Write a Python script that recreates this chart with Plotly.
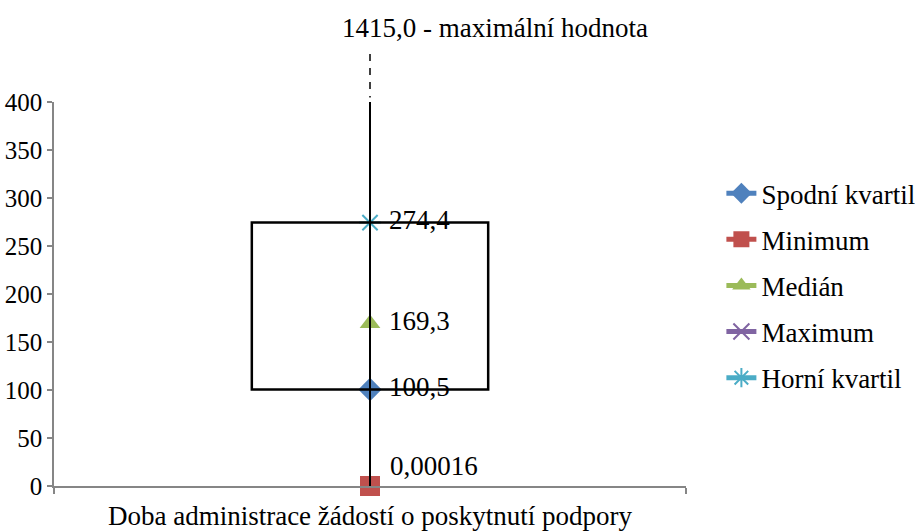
import plotly.graph_objects as go

category = ["Doba administrace žádostí o poskytnutí podpory"]
series_names = ["Spodní kvartil", "Minimum", "Medián", "Maximum", "Horní kvartil"]
series_values = [100.5, 0.00016, 169.3, 1415.0, 274.4]
series_labels = ["100,5", "0,00016", "169,3", "1415,0", "274,4"]
y_ticks = [0, 50, 100, 150, 200, 250, 300, 350, 400]
max_note = " - maximální hodnota"

colors = ["#4F81BD", "#C0504D", "#9BBB59", "#8064A2", "#4BACC6"]
symbols = ["diamond", "square", "triangle-up", "x-thin-open", "asterisk-open"]
sizes = [18, 20, 18, 16, 18]

FONT = "Liberation Serif"
FS = 27

vals = dict(zip(series_names, series_values))
q1, q3 = vals["Spodní kvartil"], vals["Horní kvartil"]
vmin, vmax = vals["Minimum"], vals["Maximum"]

fig = go.Figure()
for name, v, lab, c, s, sz in zip(series_names, series_values, series_labels,
                                   colors, symbols, sizes):
    show_text = name in ("Spodní kvartil", "Medián", "Horní kvartil")
    fig.add_trace(go.Scatter(
        x=category, y=[v], name=name, legendgroup=name,
        mode="lines+markers+text" if show_text else "lines+markers",
        text=[" " + lab] if show_text else None,
        textposition="middle right",
        textfont=dict(family=FONT, size=FS, color="black"),
        line=dict(color=c, width=5),
        marker=dict(symbol=s, size=sz, color=c,
                    line=dict(color=c, width=2 if "open" in s else 0)),
        cliponaxis=(name != "Minimum"),
    ))

# label of the minimum
fig.add_annotation(x=category[0], y=vmin, xref="x", yref="y",
                   text=series_labels[series_names.index("Minimum")],
                   showarrow=False, xanchor="left", yanchor="middle",
                   xshift=18, yshift=20,
                   font=dict(family=FONT, size=FS, color="black"))

# whisker from minimum to maximum (clipped by the axis range)
fig.add_trace(go.Scatter(
    x=category * 2, y=[vmin, vmax], mode="lines",
    line=dict(color="black", width=2), showlegend=False, hoverinfo="skip",
))

half = 0.187
fig.add_shape(type="rect", xref="x", yref="y", x0=-half, x1=half, y0=q1, y1=q3,
              line=dict(color="black", width=2.5), fillcolor="rgba(0,0,0,0)",
              layer="above")
# dashed continuation of the whisker above the plot area
fig.add_shape(type="line", xref="x", yref="paper", x0=0, x1=0, y0=1.125, y1=1.012,
              line=dict(color="black", width=1.5, dash="7px,7px"))

fig.add_annotation(
    xref="paper", yref="paper", x=0.4525, y=1.193, xanchor="left", yanchor="middle",
    text=series_labels[series_names.index("Maximum")] + max_note,
    showarrow=False, font=dict(family=FONT, size=FS, color="black"),
)

fig.update_layout(
    width=915, height=531,
    margin=dict(l=54, r=229, t=102, b=45, autoexpand=False),
    paper_bgcolor="white", plot_bgcolor="white",
    font=dict(family=FONT, size=FS, color="black"),
    showlegend=True,
    legend=dict(x=1.056, y=0.825, xanchor="left", yanchor="top",
                font=dict(family=FONT, size=FS, color="black"),
                tracegroupgap=8, itemwidth=30, bgcolor="rgba(0,0,0,0)"),
    xaxis=dict(type="category", range=[-0.5, 0.5], showgrid=False,
               showline=True, linecolor="#868686", linewidth=1.5,
               ticks="outside", tickson="boundaries", ticklen=6,
               tickcolor="#868686", tickwidth=1.5, automargin=False,
               ticklabelstandoff=5,
               tickfont=dict(family=FONT, size=FS, color="black"), fixedrange=True),
    yaxis=dict(range=[0, 400], tickvals=y_ticks, showgrid=False, zeroline=False,
               showline=True, linecolor="#868686", linewidth=1.5, automargin=False,
               ticks="outside", ticklen=5, tickcolor="#868686", tickwidth=1.5,
               tickfont=dict(family=FONT, size=25, color="black")),
)

fig.write_html("out.html")
